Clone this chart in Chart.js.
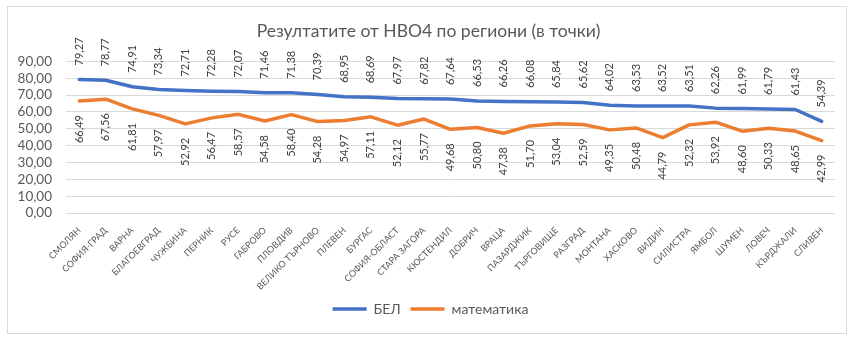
<!DOCTYPE html>
<html>
<head>
<meta charset="utf-8">
<script src="https://cdn.jsdelivr.net/npm/chart.js@4.4.0/dist/chart.umd.min.js"></script>
<style>
  html, body { margin: 0; padding: 0; background: #fff; }
  #wrap { position: relative; width: 853px; height: 341px; }
</style>
</head>
<body>
<div id="wrap"><canvas id="myChart" width="853" height="341"></canvas></div>
<script>
/*  НВО4 results by region */

const regions = ['СМОЛЯН', 'СОФИЯ-ГРАД', 'ВАРНА', 'БЛАГОЕВГРАД', 'ЧУЖБИНА', 'ПЕРНИК', 'РУСЕ', 'ГАБРОВО',
  'ПЛОВДИВ', 'ВЕЛИКО ТЪРНОВО', 'ПЛЕВЕН', 'БУРГАС', 'СОФИЯ-ОБЛАСТ', 'СТАРА ЗАГОРА', 'КЮСТЕНДИЛ', 'ДОБРИЧ',
  'ВРАЦА', 'ПАЗАРДЖИК', 'ТЪРГОВИЩЕ', 'РАЗГРАД', 'МОНТАНА', 'ХАСКОВО', 'ВИДИН', 'СИЛИСТРА', 'ЯМБОЛ',
  'ШУМЕН', 'ЛОВЕЧ', 'КЪРДЖАЛИ', 'СЛИВЕН'];

const bel = [79.27, 78.77, 74.91, 73.34, 72.71, 72.28, 72.07, 71.46, 71.38, 70.39, 68.95, 68.69, 67.97,
  67.82, 67.64, 66.53, 66.26, 66.08, 65.84, 65.62, 64.02, 63.53, 63.52, 63.51, 62.26, 61.99, 61.79, 61.43, 54.39];

const math = [66.49, 67.56, 61.81, 57.97, 52.92, 56.47, 58.57, 54.58, 58.40, 54.28, 54.97, 57.11, 52.12,
  55.77, 49.68, 50.80, 47.38, 51.70, 53.04, 52.59, 49.35, 50.48, 44.79, 52.32, 53.92, 48.60, 50.33, 48.65, 42.99];

const yMin = 0, yMax = 90, yStep = 10;

const fmt = v => v.toFixed(2).replace('.', ',');

// frame round the whole chart
const frame = {
  id: 'frame',
  beforeDraw(chart) {
    const ctx = chart.ctx;
    ctx.save();
    ctx.fillStyle = '#fff';
    ctx.fillRect(0, 0, chart.width, chart.height);
    ctx.strokeStyle = '#d9d9d9';
    ctx.lineWidth = 1;
    ctx.strokeRect(7.5, 6.5, 839, 327);
    ctx.restore();
  }
};

// centre title and legend on the frame rather than on the padded box
const nudge = {
  id: 'nudge',
  afterLayout(chart) {
    chart.titleBlock.left += 7;
    chart.titleBlock.right += 7;
    chart.legend.left += 9;
    chart.legend.right += 9;
  }
};

// vertical value labels: БЕЛ above the line, математика below
const pointLabels = {
  id: 'pointLabels',
  afterDatasetsDraw(chart) {
    const ctx = chart.ctx;
    ctx.save();
    ctx.font = '11px Lato';
    ctx.fillStyle = '#404040';
    ctx.textBaseline = 'middle';
    chart.data.datasets.forEach((ds, i) => {
      const above = i === 0;
      chart.getDatasetMeta(i).data.forEach((pt, j) => {
        ctx.save();
        ctx.translate(pt.x, above ? pt.y - 14 : pt.y + 14);
        ctx.rotate(-Math.PI / 2);
        ctx.textAlign = above ? 'left' : 'right';
        ctx.fillText(fmt(ds.data[j]), 0, 0);
        ctx.restore();
      });
    });
    ctx.restore();
  }
};

const ctx = document.getElementById('myChart').getContext('2d');
new Chart(ctx, {
  type: 'line',
  data: {
    labels: regions,
    datasets: [{
      label: 'БЕЛ',
      data: bel,
      borderColor: '#4472C4',
      backgroundColor: '#4472C4',
      borderWidth: 3.5,
      borderCapStyle: 'round',
      borderJoinStyle: 'round',
      pointRadius: 0,
      tension: 0
    }, {
      label: 'математика',
      data: math,
      borderColor: '#ED7D31',
      backgroundColor: '#ED7D31',
      borderWidth: 3.5,
      borderCapStyle: 'round',
      borderJoinStyle: 'round',
      pointRadius: 0,
      tension: 0
    }]
  },
  options: {
    responsive: false,
    animation: false,
    layout: { padding: { left: 8, right: 18, top: 0, bottom: 15 } },
    scales: {
      x: {
        offset: true,
        grid: { display: false },
        border: { display: false },
        ticks: {
          autoSkip: false,
          minRotation: 45,
          maxRotation: 45,
          padding: 4,
          color: '#595959',
          font: { family: 'Lato', size: 9 }
        },
        afterFit(scale) { scale.height = 79; }
      },
      y: {
        min: yMin,
        max: yMax,
        grid: { color: '#d9d9d9', drawTicks: false },
        border: { display: false },
        ticks: {
          stepSize: yStep,
          autoSkip: false,
          padding: 14,
          color: '#595959',
          font: { family: 'Lato', size: 13.5 },
          callback: v => fmt(v)
        },
        afterFit(scale) { scale.width = 58; }
      }
    },
    plugins: {
      title: {
        display: true,
        text: 'Резултатите от НВО4 по региони (в точки)',
        color: '#595959',
        font: { family: 'Lato', size: 17.5, weight: 'normal' },
        padding: { top: 21, bottom: 19.4 }
      },
      legend: {
        position: 'bottom',
        labels: {
          usePointStyle: true,
          pointStyle: 'line',
          pointStyleWidth: 34,
          color: '#595959',
          font: { family: 'Lato', size: 14 },
          padding: 10
        }
      },
      tooltip: { enabled: false }
    }
  },
  plugins: [frame, nudge, pointLabels]
});
</script>
</body>
</html>
